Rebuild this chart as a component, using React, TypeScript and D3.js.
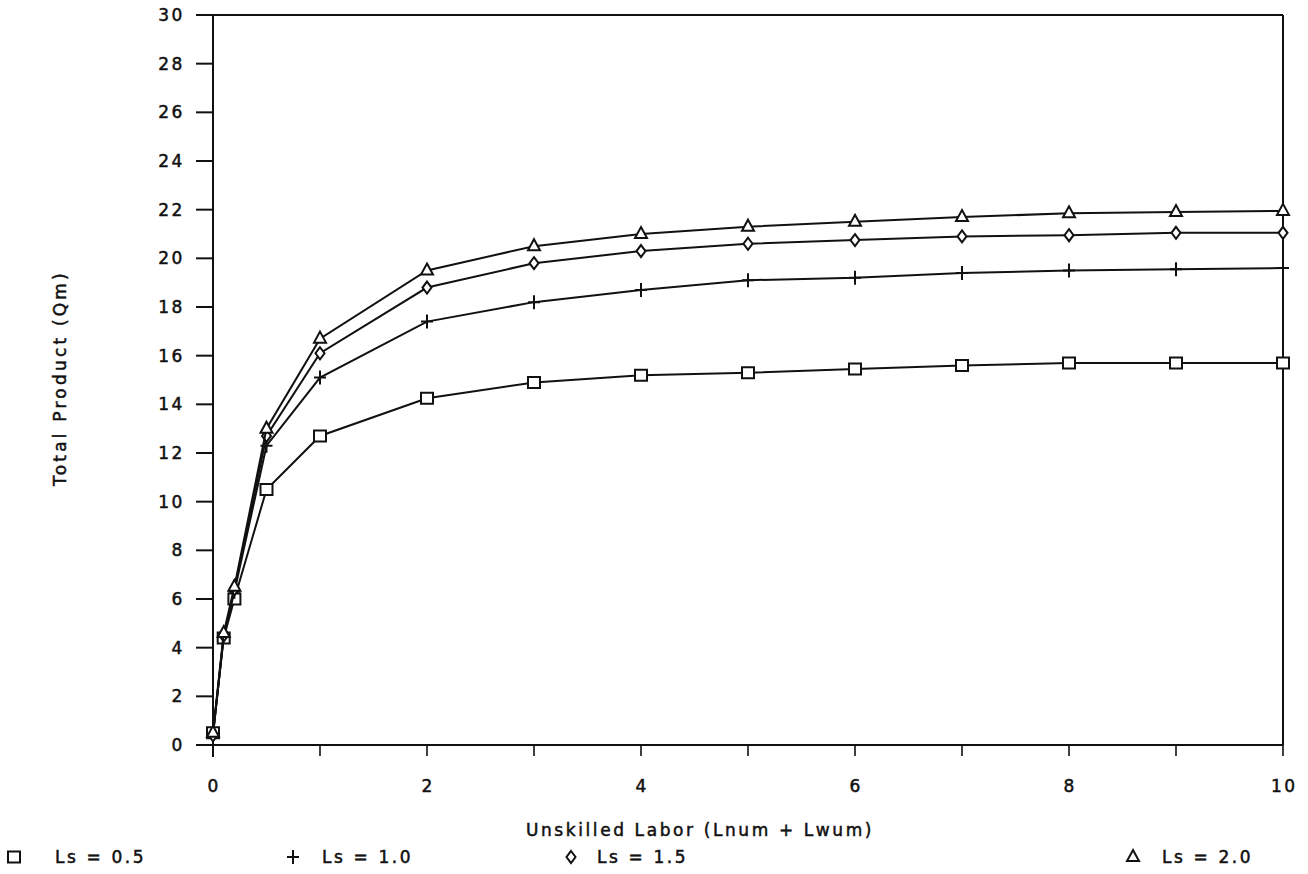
import React from "react";
import * as d3 from "d3";

// Unskilled labor inputs (x) and total product for each skilled-labor level
const laborX = [0, 0.1, 0.2, 0.5, 1, 2, 3, 4, 5, 6, 7, 8, 9, 10];
const qmLs05 = [0.5, 4.4, 6.0, 10.5, 12.7, 14.25, 14.9, 15.2, 15.3, 15.45, 15.6, 15.7, 15.7, 15.7];
const qmLs10 = [0.4, 4.5, 6.3, 12.3, 15.1, 17.4, 18.2, 18.7, 19.1, 19.2, 19.4, 19.5, 19.55, 19.6];
const qmLs15 = [0.4, 4.5, 6.4, 12.7, 16.1, 18.8, 19.8, 20.3, 20.6, 20.75, 20.9, 20.95, 21.05, 21.05];
const qmLs20 = [0.5, 4.6, 6.5, 13.0, 16.7, 19.5, 20.5, 21.0, 21.3, 21.5, 21.7, 21.85, 21.9, 21.95];

const xTicks = [0, 1, 2, 3, 4, 5, 6, 7, 8, 9, 10];
const xTickLabels = [0, 2, 4, 6, 8, 10];
const yTicks = [0, 2, 4, 6, 8, 10, 12, 14, 16, 18, 20, 22, 24, 26, 28, 30];

type MarkerKind = "square" | "plus" | "diamond" | "triangle";
const seriesLabels = ["Ls = 0.5", "Ls = 1.0", "Ls = 1.5", "Ls = 2.0"];
const seriesMarkers: MarkerKind[] = ["square", "plus", "diamond", "triangle"];
const seriesValues = [qmLs05, qmLs10, qmLs15, qmLs20];

const W = 1308;
const H = 874;
const INK = "#111";
const FONT = "'DejaVu Sans', sans-serif";
const FS = 17;
const LS = 2.6;

const x = d3.scaleLinear().domain([0, 10]).range([213, 1283]);
const y = d3.scaleLinear().domain([0, 30]).range([745, 15]);

function markerPath(kind: MarkerKind, cx: number, cy: number): string {
  const p = d3.path();
  if (kind === "square") {
    p.rect(cx - 6, cy - 5.5, 12, 11);
  } else if (kind === "plus") {
    p.moveTo(cx - 6, cy);
    p.lineTo(cx + 6, cy);
    p.moveTo(cx, cy - 7);
    p.lineTo(cx, cy + 7);
  } else if (kind === "diamond") {
    p.moveTo(cx, cy - 6);
    p.lineTo(cx + 4.5, cy);
    p.lineTo(cx, cy + 6);
    p.lineTo(cx - 4.5, cy);
    p.closePath();
  } else {
    p.moveTo(cx, cy - 7);
    p.lineTo(cx + 6, cy + 4);
    p.lineTo(cx - 6, cy + 4);
    p.closePath();
  }
  return p.toString();
}

const textStyle = {
  fontFamily: FONT,
  fontSize: FS,
  letterSpacing: LS,
  fill: INK,
  stroke: INK,
  strokeWidth: 0.5,
} as const;

export default function App() {
  const line = d3
    .line<[number, number]>()
    .x((d) => x(d[0]))
    .y((d) => y(d[1]));

  const legendPos = [
    { mx: 14, tx: 55 },
    { mx: 293, tx: 322 },
    { mx: 571, tx: 597 },
    { mx: 1133, tx: 1162 },
  ];

  return (
    <div style={{ position: "absolute", left: 0, top: 0 }}>
      <svg width={W} height={H} style={{ display: "block", background: "#fff" }}>
        {/* frame: top and right borders */}
        <line x1={197} y1={y(30)} x2={x(10)} y2={y(30)} stroke={INK} strokeWidth={2} />
        <line x1={x(10)} y1={y(30)} x2={x(10)} y2={y(0)} stroke={INK} strokeWidth={2} />

        {/* y axis */}
        <line x1={x(0)} y1={y(30)} x2={x(0)} y2={y(0) + 12} stroke={INK} strokeWidth={2} />
        {yTicks.map((t) => (
          <g key={`yt${t}`}>
            <line x1={x(0) - 17} y1={y(t)} x2={x(0)} y2={y(t)} stroke={INK} strokeWidth={2} />
            <text x={185} y={y(t)} dy="0.36em" textAnchor="end" style={textStyle}>
              {t}
            </text>
          </g>
        ))}

        {/* x axis */}
        <line x1={x(0) - 8} y1={y(0)} x2={x(10)} y2={y(0)} stroke={INK} strokeWidth={2} />
        {xTicks.map((t) => (
          <line key={`xt${t}`} x1={x(t)} y1={y(0)} x2={x(t)} y2={y(0) + 11} stroke={INK} strokeWidth={1.6} />
        ))}
        {xTickLabels.map((t) => (
          <text key={`xl${t}`} x={x(t) + LS / 2} y={792} textAnchor="middle" style={textStyle}>
            {t}
          </text>
        ))}

        {/* axis titles */}
        <text x={700} y={836} textAnchor="middle" style={textStyle}>
          Unskilled Labor (Lnum + Lwum)
        </text>
        <text
          transform={`translate(66, 378) rotate(-90)`}
          textAnchor="middle"
          style={{ ...textStyle, letterSpacing: 3.2 }}
        >
          Total Product (Qm)
        </text>

        {/* series lines and markers */}
        {seriesValues.map((vals, si) => {
          const pts = laborX.map((lx, i) => [lx, vals[i]] as [number, number]);
          return (
            <g key={`s${si}`}>
              <path d={line(pts) ?? ""} fill="none" stroke={INK} strokeWidth={2} />
              {pts.map((d, i) => (
                <path
                  key={i}
                  d={markerPath(seriesMarkers[si], x(d[0]), y(d[1]))}
                  fill="#fff"
                  stroke={INK}
                  strokeWidth={2}
                />
              ))}
            </g>
          );
        })}

        {/* legend */}
        {seriesLabels.map((lab, i) => (
          <g key={`lg${i}`}>
            <path
              d={markerPath(seriesMarkers[i], legendPos[i].mx, 857)}
              fill="#fff"
              stroke={INK}
              strokeWidth={2}
            />
            <text x={legendPos[i].tx} y={857} dy="0.36em" style={textStyle}>
              {lab}
            </text>
          </g>
        ))}
      </svg>
    </div>
  );
}
